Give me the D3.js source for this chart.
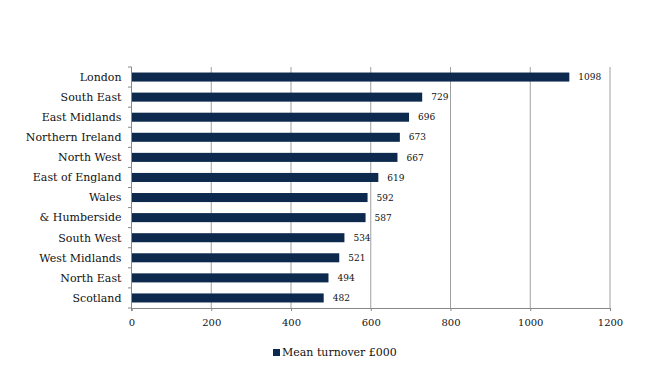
<!DOCTYPE html>
<html>
<head>
<meta charset="utf-8">
<script src="https://cdn.jsdelivr.net/npm/d3@7"></script>
<style>
  body { margin: 0; background: #fff; }
</style>
</head>
<body>
<svg id="canvas" width="650" height="366"></svg>
<script>
let regions = ["London", "South East", "East Midlands", "Northern Ireland", "North West",
  "East of England", "Wales", "& Humberside", "South West", "West Midlands", "North East", "Scotland"]
let turnover = [1098, 729, 696, 673, 667, 619, 592, 587, 534, 521, 494, 482]
let xTicks = [0, 200, 400, 600, 800, 1000, 1200]
let seriesName = "Mean turnover \u00a3000"

let canvas = d3.select('#canvas')
let barColor = "#0d2a4e"
let serif = "'DejaVu Serif', serif"

let plotLeft = 131.5, plotRight = 610, plotTop = 67, plotBottom = 308

let x = d3.scaleLinear().domain([0, 1200]).range([plotLeft, plotRight])
let y = d3.scaleBand().domain(regions).range([plotTop, plotBottom]).paddingInner(0.55).paddingOuter(0.275)

// vertical gridlines
canvas.append('g')
  .selectAll('line')
  .data(xTicks.slice(1))
  .enter()
  .append('line')
  .attr('x1', d => x(d)).attr('x2', d => x(d))
  .attr('y1', plotTop).attr('y2', plotBottom)
  .attr('stroke', '#a0a0a0')
  .attr('stroke-width', 1)

// bars
canvas.append('g')
  .selectAll('rect')
  .data(regions)
  .enter()
  .append('rect')
  .attr('x', x(0))
  .attr('y', d => y(d))
  .attr('width', (d, i) => x(turnover[i]) - x(0))
  .attr('height', y.bandwidth())
  .attr('fill', barColor)

// value labels
canvas.append('g')
  .selectAll('text')
  .data(regions)
  .enter()
  .append('text')
  .style('font-family', serif)
  .attr('x', (d, i) => x(turnover[i]) + 9)
  .attr('y', d => y(d) + y.bandwidth() / 2)
  .attr('dy', '0.35em')
  .attr('font-size', 9)
  .attr('fill', '#111')
  .text((d, i) => turnover[i])

// x axis
let xAxis = d3.axisBottom(x).tickValues(xTicks).tickSize(3).tickPadding(8).tickFormat(d3.format('d'))
let gx = canvas.append('g')
  .attr('transform', `translate(0,${plotBottom})`)
  .attr('font-family', serif)
  .call(xAxis)
gx.select('.domain').attr('stroke', '#888')
gx.selectAll('.tick line').attr('stroke', '#888')
gx.selectAll('.tick text').style('font-family', serif).attr('font-size', 10).attr('fill', '#111')

// y axis: ticks between categories
let yEdges = d3.range(regions.length + 1).map(i => plotTop + i * (plotBottom - plotTop) / regions.length)
canvas.append('line')
  .attr('x1', plotLeft).attr('x2', plotLeft)
  .attr('y1', plotTop).attr('y2', plotBottom + 3)
  .attr('stroke', '#888')
canvas.append('g')
  .selectAll('line')
  .data(yEdges)
  .enter()
  .append('line')
  .attr('x1', plotLeft - 3.5).attr('x2', plotLeft)
  .attr('y1', d => d).attr('y2', d => d)
  .attr('stroke', '#888')

canvas.append('g')
  .selectAll('text')
  .data(regions)
  .enter()
  .append('text')
  .style('font-family', serif)
  .attr('x', plotLeft - 10)
  .attr('y', d => y(d) + y.bandwidth() / 2)
  .attr('dy', '0.35em')
  .attr('text-anchor', 'end')
  .attr('font-size', 11)
  .attr('fill', '#111')
  .text(d => d)

// legend
let legend = canvas.append('g').attr('transform', 'translate(273,349)')
legend.append('rect').attr('width', 7).attr('height', 7).attr('fill', barColor)
legend.append('text').style('font-family', serif)
  .attr('x', 9).attr('y', 3.5).attr('dy', '0.35em').attr('font-size', 11).attr('fill', '#111')
  .text(seriesName)
</script>
</body>
</html>
